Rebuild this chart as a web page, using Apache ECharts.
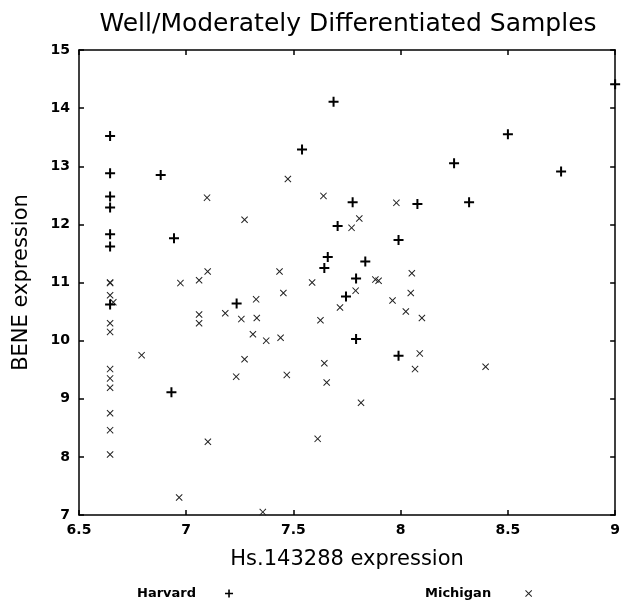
<!DOCTYPE html>
<html>
<head>
<meta charset="utf-8">
<script src="https://cdn.jsdelivr.net/npm/echarts@6/dist/echarts.min.js"></script>
<style>html,body{margin:0;padding:0;background:#fff;}#c{width:623px;height:602px;}</style>
</head>
<body>
<div id="c"></div>
<script>
// Harvard samples: [Hs.143288 expression, BENE expression]
var harvard = [
  [6.645,13.52],[6.645,12.88],[6.645,12.48],[6.645,12.29],[6.645,11.83],[6.645,11.62],[6.645,10.62],
  [6.881,12.85],[6.943,11.76],[6.931,9.11],[7.235,10.64],
  [7.687,14.11],[7.540,13.29],[7.776,12.38],[8.078,12.35],[7.706,11.97],[7.990,11.73],
  [7.660,11.44],[7.644,11.25],[7.835,11.36],[7.792,11.07],[7.745,10.76],[7.792,10.03],[7.990,9.74],
  [9.0,14.41],[8.5,13.55],[8.249,13.05],[8.748,12.91],[8.319,12.38]
];
// Michigan samples
var michigan = [
  [6.645,11.0],[6.645,10.99],[6.645,10.78],[6.66,10.66],[6.645,10.30],[6.645,10.15],[6.645,9.51],
  [6.645,9.35],[6.645,9.19],[6.645,8.75],[6.645,8.46],[6.645,8.04],
  [6.792,9.75],[6.973,10.99],[7.06,11.04],[7.10,11.19],[7.06,10.45],[7.06,10.30],[7.182,10.47],
  [7.233,9.38],[7.101,8.26],[6.967,7.30],[7.097,12.46],[7.474,12.78],[7.272,12.08],[7.64,12.49],
  [7.98,12.37],[7.807,12.10],[7.771,11.94],[7.435,11.19],[8.052,11.16],[7.882,11.05],[7.897,11.03],
  [7.587,11.0],[7.79,10.86],[7.453,10.82],[7.326,10.71],[7.717,10.57],[7.962,10.69],[8.047,10.82],
  [8.024,10.50],[8.099,10.39],[7.257,10.37],[7.329,10.39],[7.626,10.35],[7.311,10.11],[7.373,10.0],
  [7.44,10.05],[7.272,9.68],[7.469,9.41],[7.644,9.61],[7.655,9.28],[7.815,8.93],[7.613,8.31],
  [7.357,7.05],[8.089,9.78],[8.067,9.51],[8.396,9.55]
];
var xTicks = ['6.5','7','7.5','8','8.5','9'];
var yTicks = ['7','8','9','10','11','12','13','14','15'];

var plusPath = 'path://M4,0H6V4H10V6H6V10H4V6H0V4H4Z';
var crossPath = 'path://M0,1L1,0L5,4L9,0L10,1L6,5L10,9L9,10L5,6L1,10L0,9L4,5Z';
var FONT = 'DejaVu Sans';

var axisLine = {show:true, lineStyle:{color:'#000', width:1.5}};
var axisTick = {show:true, inside:true, length:5, lineStyle:{color:'#000', width:1.5}};

var chart = echarts.init(document.getElementById('c'), null, {renderer:'canvas'});
chart.setOption({
  backgroundColor:'#fff',
  animation:false,
  title:{
    text:'Well/Moderately Differentiated Samples',
    left:348, top:12, padding:0, textAlign:'center',
    textStyle:{fontFamily:FONT, fontSize:25, fontWeight:'normal', color:'#000'}
  },
  legend:[
    {data:['Harvard'], left:137, top:587, padding:0, align:'right', itemWidth:8, itemHeight:8,
     textStyle:{fontFamily:FONT, fontWeight:'bold', fontSize:13, color:'#000', padding:[0,24,0,0]}},
    {data:['Michigan'], left:425, top:587, padding:0, align:'right', itemWidth:7, itemHeight:7,
     textStyle:{fontFamily:FONT, fontWeight:'bold', fontSize:13, color:'#000', padding:[0,29,0,0]}}
  ],
  grid:{left:79, right:6, top:50, bottom:87, containLabel:false},
  xAxis:[
    {type:'value', min:6.5, max:9, interval:0.5, position:'bottom',
     name:'Hs.143288 expression', nameLocation:'middle', nameGap:34,
     nameTextStyle:{fontFamily:FONT, fontSize:21, color:'#000'},
     axisLine:axisLine, axisTick:axisTick, splitLine:{show:false},
     axisLabel:{fontFamily:FONT, fontWeight:'bold', fontSize:14, color:'#000', margin:8,
       formatter:function(v){ var i = Math.round((v-6.5)/0.5); return xTicks[i]; }}},
    {type:'value', min:6.5, max:9, interval:0.5, position:'top',
     axisLine:axisLine, axisTick:axisTick, splitLine:{show:false}, axisLabel:{show:false}}
  ],
  yAxis:[
    {type:'value', min:7, max:15, interval:1, position:'left',
     name:'BENE expression', nameLocation:'middle', nameGap:47,
     nameTextStyle:{fontFamily:FONT, fontSize:21, color:'#000'},
     axisLine:axisLine, axisTick:axisTick, splitLine:{show:false},
     axisLabel:{fontFamily:FONT, fontWeight:'bold', fontSize:14, color:'#000', margin:9,
       formatter:function(v){ return yTicks[Math.round(v-7)]; }}},
    {type:'value', min:7, max:15, interval:1, position:'right',
     axisLine:axisLine, axisTick:axisTick, splitLine:{show:false}, axisLabel:{show:false}}
  ],
  series:[
    {name:'Harvard', type:'scatter', data:harvard, symbol:plusPath, symbolSize:10,
     itemStyle:{color:'#000', opacity:1}, z:3},
    {name:'Michigan', type:'scatter', data:michigan, symbol:crossPath, symbolSize:7,
     itemStyle:{color:'#222', opacity:1}, z:2}
  ]
});
</script>
</body>
</html>
